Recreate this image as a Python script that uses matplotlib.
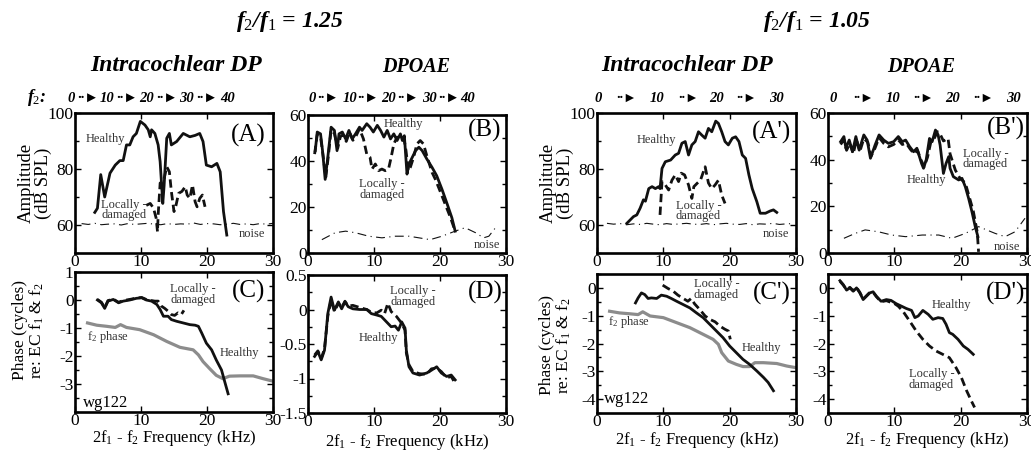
import matplotlib
matplotlib.use("Agg")
import matplotlib.pyplot as plt
from matplotlib.ticker import FuncFormatter, MultipleLocator

plt.rcParams["font.family"] = ["Liberation Serif", "DejaVu Sans"]
plt.rcParams["mathtext.fontset"] = "custom"
plt.rcParams["mathtext.rm"] = "Liberation Serif"
plt.rcParams["mathtext.it"] = "Liberation Serif:style=italic:weight=bold"
plt.rcParams["mathtext.bf"] = "Liberation Serif:style=italic:weight=bold"
plt.rcParams["axes.unicode_minus"] = False

# ---- amplitude, f2/f1 = 1.25 ----
a_h_x = [3.0, 3.4, 3.9, 4.5, 5.3, 6.1, 6.8, 7.3, 7.8, 8.3, 8.8, 9.3, 9.9, 10.6, 11.1, 11.4, 11.6, 12.1, 12.6,
         12.9, 13.3, 13.5, 13.9, 14.3, 14.6, 15.4, 16.4, 17.4, 18.2, 18.9, 19.4, 19.9, 20.7, 21.5, 22.0, 22.5, 23.0]
a_h_y = [64.5, 66, 78, 70, 78.5, 81.4, 83, 83, 88.6, 88.6, 91.5, 92.7, 97, 95.7, 94, 91.5, 94, 92.7, 88.6,
         82.6, 67.7, 74, 91, 92.7, 88.6, 89.8, 92.7, 91.5, 92, 92.7, 89.8, 81.4, 80.8, 82, 79, 64.8, 56.4]
a_d_x = [10.8, 11.4, 11.9, 12.3, 12.5, 12.6, 12.9, 13.4, 13.9, 14.3, 14.6, 15.0, 15.3, 15.7, 16.2, 16.7,
         17.0, 17.4, 17.8, 18.2, 18.5, 18.9, 19.3, 19.7]
a_d_y = [67, 67.7, 66, 62.4, 57.6, 63.6, 75, 75.5, 80.8, 79, 72, 64.8, 67, 71.3, 72, 73.7,
         70.7, 69.5, 74.3, 68.3, 66.5, 69.5, 70.7, 66.5]
a_n_x = list(range(1, 31))
a_n_y = [60.5, 60.2, 60.6, 60.1, 60.3, 60.4, 60.0, 60.5, 60.2, 60.4, 60.6, 60.3, 60.1, 60.5, 60.2,
         60.4, 60.3, 60.7, 60.2, 60.5, 60.4, 60.1, 60.3, 60.6, 60.2, 60.4, 60.1, 60.5, 60.3, 60.6]

b_h_x = [1.1, 1.4, 1.9, 2.2, 2.6, 3.0, 3.5, 4.0, 4.4, 4.7, 5.2, 5.7, 6.2, 6.7, 7.2, 7.8, 8.2, 8.9, 9.4, 9.9,
         10.5, 11.0, 11.5, 12.0, 12.5, 13.0, 13.5, 14.0, 14.3, 14.6, 15.0, 15.3, 15.8, 16.3, 16.8, 17.3,
         18.0, 18.8, 19.5, 20.3, 21.1, 21.8, 22.3]
b_h_y = [44.5, 52.6, 51.8, 44.5, 32, 41.6, 54.7, 53.3, 44.5, 51.8, 52.6, 49.6, 53.3, 49.6, 51.8, 54.7,
         53.3, 56.2, 54.7, 52.6, 55.5, 53.3, 50.4, 53.3, 49.6, 51.8, 48.9, 51.8, 48.9, 51, 34.3, 38.7,
         41.6, 44.5, 46, 44.5, 40.9, 37.2, 33.6, 27.7, 21.2, 15.3, 9.5]
b_d_x = [1.0, 1.4, 1.9, 2.3, 2.7, 3.1, 3.5, 4.0, 4.5, 4.9, 5.3, 5.8, 6.3, 6.8, 7.3, 7.8, 8.4, 8.9, 9.4,
         9.7, 10.2, 10.7, 11.2, 11.7, 12.2, 12.6, 13.0, 13.5, 14.0, 14.5, 14.85, 15.2, 15.5, 16.0, 16.5,
         17.0, 17.5, 18.0, 18.8, 19.3, 19.9, 20.6, 21.6, 22.3]
b_d_y = [43, 51.5, 50.5, 42, 33, 42.5, 53.5, 52, 45.5, 50.5, 51.5, 48.5, 52.5, 49, 51, 54, 49.6, 43,
         41.6, 36.5, 38.7, 35.8, 36.5, 35.8, 36.5, 41.6, 47.4, 50.4, 49.6, 50.4, 44.5, 35.8, 37.2, 41.6,
         47.4, 48.9, 47.4, 42.3, 35, 32, 27.7, 22.6, 15.3, 9.5]
b_n_x = [2.1, 4.1, 5.7, 7.2, 9.2, 11.2, 13.2, 15.3, 16.8, 18.5, 20.3, 22.3, 23.8, 25.4, 26.6, 27.4, 28.6]
b_n_y = [5.8, 8.8, 9.5, 8.8, 7.3, 6.6, 7.3, 7.3, 6.6, 5.8, 7.3, 9.5, 11, 8.8, 6.6, 7.3, 11.7]

# ---- amplitude, f2/f1 = 1.05 ----
ap_h_x = [4.5, 5.0, 5.5, 6.0, 6.5, 7.0, 7.3, 7.8, 8.3, 8.8, 9.3, 9.5, 9.8, 10.3, 11.1, 11.8, 12.3, 12.8,
          13.3, 13.8, 14.3, 14.8, 15.3, 15.8, 16.3, 16.8, 17.3, 17.9, 18.3, 18.8, 19.3, 19.8, 20.4, 20.9,
          21.4, 21.9, 22.4, 22.9, 23.4, 24.1, 24.6, 25.4, 26.1, 26.6, 27.1]
ap_h_y = [60.6, 61.8, 63, 63.6, 66, 69, 68.5, 73, 73.7, 73, 73.7, 73, 80.2, 82.6, 83.2, 85, 85.6, 89.2,
          89.8, 85, 88.6, 89.8, 93.3, 92.1, 91, 94.5, 93.3, 97.1, 96.3, 93.3, 89.8, 88.6, 91, 91.5,
          89.8, 85, 83.8, 77.9, 73, 68.3, 64.2, 64.2, 65, 65.4, 64.5]
ap_d_x = [9.5, 9.8, 10.3, 10.8, 11.3, 11.8, 12.3, 12.7, 13.2, 13.8, 14.3, 14.6, 15.1, 15.6, 16.3, 16.8,
          17.3, 17.8, 18.3, 18.8, 19.3]
ap_d_y = [63.6, 75.5, 74.3, 72.5, 76, 77.9, 75.5, 78.5, 77.9, 74.3, 69.5, 73.7, 74.9, 76, 80.8, 75,
          73, 74.3, 76, 70.7, 67.7]
ap_n_x = [1.5, 2.5, 3.5, 4.5, 5.5, 6.5, 7.5, 8.5, 9.5, 10.5, 11.5, 12.5, 13.5, 14.5, 15.5, 16.5, 17.5,
          18.5, 19.5, 20.5, 21.5, 22.5, 23.5, 24.5, 25.5, 26.5, 27.5, 28.5, 29.5]
ap_n_y = [60.6, 60.3, 60.5, 60.1, 60.4, 60.2, 60.6, 60.3, 60.1, 60.5, 60.2, 60.4, 60.6, 60.3, 60.2,
          60.5, 60.1, 60.4, 60.6, 60.3, 60.2, 60.5, 60.1, 60.4, 60.3, 60.6, 60.2, 60.4, 60.5]

bp_h_x = [1.9, 2.4, 2.7, 3.2, 3.7, 4.2, 4.7, 5.4, 5.9, 6.4, 7.1, 7.7, 8.4, 9.1, 9.9, 10.6, 11.2, 11.7,
          12.3, 12.9, 13.4, 14.1, 14.4, 14.8, 15.3, 15.7, 16.2, 16.6, 16.9, 17.4, 17.8, 18.2, 18.4, 18.9,
          19.7, 20.2, 20.7, 21.2, 21.7, 22.2, 22.6]
bp_h_y = [47.7, 49.9, 44.9, 48.4, 43.4, 49.9, 44.1, 50.6, 48.4, 40.6, 46.3, 50.6, 48.4, 47, 47.7, 49.9,
          47.7, 48.4, 45.6, 43.4, 44.9, 38.4, 36.3, 39.9, 49.1, 47.7, 52.7, 50.6, 46.3, 34.1, 38.4,
          41.3, 36.3, 32.7, 31.3, 32, 28.4, 23.4, 17.7, 11.3, 7]
bp_d_x = [1.9, 2.4, 2.8, 3.3, 3.8, 4.3, 4.8, 5.4, 6.0, 6.5, 7.1, 7.7, 8.4, 9.1, 9.9, 10.6, 11.2, 11.8,
          12.4, 13.0, 13.5, 14.0, 14.5, 15.0, 15.5, 16.0, 16.5, 16.9, 17.4, 18.1, 18.4, 18.8, 19.2, 19.9,
          20.7, 21.2, 21.9, 22.5, 22.7]
bp_d_y = [46.5, 48.5, 44, 47, 42.5, 48.5, 43.5, 49, 47.5, 41.5, 45, 49.5, 47, 45.5, 46.5, 48.5, 46.5,
          47, 44.5, 42.5, 44, 40, 37, 41, 47.5, 49, 52, 51, 48, 49.1, 42.5, 39, 35.5, 32, 30, 25, 18,
          9, 0.5]
bp_n_x = [2.4, 4.1, 5.6, 7.6, 9.6, 11.7, 14.2, 16.7, 18.7, 20.7, 22.7, 25.2, 26.7, 28.2, 29.7]
bp_n_y = [6.3, 8.4, 9.9, 9.1, 7.7, 7.0, 7.7, 7.7, 6.3, 8.4, 11.3, 8.4, 7.0, 9.1, 14.9]

# ---- phase, f2/f1 = 1.25 ----
c_h_x = [3.4, 4.0, 4.5, 5.0, 5.8, 6.6, 7.3, 8.3, 9.3, 10.1, 10.8, 11.6, 12.4, 12.9, 13.4, 14.1, 14.6,
         15.4, 16.4, 17.4, 18.2, 18.7, 19.2, 19.9, 20.7, 21.4, 22.2, 22.7, 23.2]
c_h_y = [0, -0.1, -0.3, -0.04, 0.02, -0.1, -0.04, 0, 0.06, 0.08, 0, -0.04, -0.16, -0.34, -0.58, -0.58,
         -0.7, -0.76, -0.82, -0.88, -0.9, -0.94, -1.18, -1.54, -1.78, -2.14, -2.5, -2.93, -3.35]
c_d_x = [3.4, 4.0, 4.5, 5.0, 5.8, 6.6, 7.3, 8.3, 9.3, 10.1, 10.8, 11.6, 12.1, 12.6, 13.1, 13.6, 14.1,
         14.6, 15.1, 15.6, 16.1, 16.5]
c_d_y = [0.02, -0.08, -0.27, -0.02, 0.03, -0.08, -0.02, 0.02, 0.07, 0.09, 0.02, -0.02, -0.04, -0.04,
         -0.22, -0.3, -0.4, -0.52, -0.55, -0.46, -0.52, -0.37]
c_f2_x = [1.9, 3.3, 4.8, 6.1, 6.9, 7.8, 9.8, 11.9, 13.9, 15.9, 17.9, 18.7, 19.4, 20.4, 21.4, 22.4, 23.4,
          25.0, 27.0, 28.5, 30.0]
c_f2_y = [-0.82, -0.9, -0.94, -0.98, -0.88, -0.98, -1.06, -1.24, -1.48, -1.69, -1.78, -1.96, -2.2,
          -2.45, -2.69, -2.81, -2.72, -2.71, -2.71, -2.81, -2.9]

d_h_x = [1.0, 1.5, 2.0, 2.5, 3.0, 3.5, 4.0, 4.6, 5.1, 5.6, 6.1, 6.8, 7.8, 8.9, 9.6, 10.4, 11.1, 11.9,
         12.6, 13.2, 13.7, 14.2, 14.7, 14.9, 15.3, 15.9, 16.9, 18.0, 18.7, 19.5, 20.2, 21.0, 21.7, 22.3]
d_h_y = [-0.68, -0.61, -0.73, -0.59, -0.06, 0.18, -0.01, 0.11, 0.01, 0.11, 0.04, 0.01, 0, 0, -0.06,
         -0.08, -0.1, -0.18, -0.25, -0.24, -0.3, -0.18, -0.27, -0.59, -0.83, -0.92, -0.95, -0.92,
         -0.88, -0.83, -0.92, -0.97, -0.95, -1.02]
d_d_x = [1.0, 1.5, 2.0, 2.5, 3.0, 3.5, 4.0, 4.6, 5.1, 5.6, 6.1, 6.8, 7.8, 8.9, 9.6, 10.4, 11.1, 11.6,
         12.1, 12.6, 13.4, 14.2, 14.7, 14.9, 15.3, 15.9, 16.9, 18.0, 18.7, 19.5, 20.2, 21.0, 21.7, 22.4]
d_d_y = [-0.66, -0.6, -0.71, -0.57, -0.1, 0.14, -0.03, 0.09, 0.03, 0.12, 0.05, 0.06, 0.03, 0.0, -0.04,
         -0.05, -0.01, -0.06, 0.09, -0.03, -0.1, -0.2, -0.3, -0.63, -0.8, -0.9, -0.93, -0.94, -0.86,
         -0.85, -0.9, -0.99, -0.97, -1.09]

# ---- phase, f2/f1 = 1.05 ----
cp_h_x = [5.8, 6.2, 6.7, 7.2, 7.7, 8.2, 9.0, 9.7, 10.5, 11.2, 12.0, 13.0, 14.0, 15.0, 16.0, 17.0, 18.0,
          19.0, 20.0, 21.0, 22.0, 23.0, 24.1, 25.1, 25.8, 26.6]
cp_h_y = [-0.54, -0.36, -0.18, -0.24, -0.38, -0.36, -0.38, -0.26, -0.3, -0.38, -0.48, -0.6, -0.72,
          -0.9, -1.07, -1.31, -1.55, -1.79, -2.09, -2.33, -2.57, -2.75, -2.99, -3.22, -3.4, -3.7]
cp_d_x = [9.9, 10.7, 11.5, 12.2, 13.0, 13.7, 14.2, 14.7, 15.5, 16.3, 17.0, 17.8, 18.5, 19.3, 19.8, 20.1]
cp_d_y = [0.1, -0.02, -0.12, -0.26, -0.38, -0.48, -0.38, -0.57, -0.78, -1.01, -1.13, -1.22, -1.37,
          -1.49, -1.55, -1.85]
cp_f2_x = [1.9, 3.4, 4.9, 6.2, 6.9, 8.0, 10.0, 12.0, 14.0, 16.0, 17.5, 18.3, 18.8, 19.8, 21.0, 22.0,
           23.0, 23.8, 25.1, 27.1, 28.6, 30.0]
cp_f2_y = [-0.84, -0.9, -0.93, -0.96, -0.86, -1.01, -1.07, -1.25, -1.43, -1.67, -1.85, -2.03, -2.33,
           -2.63, -2.75, -2.83, -2.83, -2.69, -2.69, -2.72, -2.81, -2.87]

dp_h_x = [1.8, 2.3, 2.8, 3.3, 3.8, 4.3, 4.8, 5.3, 5.8, 6.3, 6.8, 7.3, 8.0, 8.8, 9.5, 10.3, 11.1, 11.8,
          12.6, 13.1, 13.6, 14.3, 15.1, 15.8, 16.6, 17.3, 17.8, 18.3, 18.8, 19.6, 20.4, 21.1, 21.9]
dp_h_y = [0.26, 0.12, -0.08, 0, -0.12, 0, -0.18, -0.42, -0.3, -0.18, -0.14, -0.3, -0.48, -0.42, -0.45,
          -0.57, -0.66, -0.74, -0.81, -1.07, -1.01, -0.81, -0.95, -1.13, -1.07, -1.1, -1.31, -1.61,
          -1.67, -1.85, -2.09, -2.21, -2.39]
dp_d_x = [1.8, 2.3, 2.8, 3.3, 3.8, 4.3, 4.8, 5.3, 5.8, 6.3, 6.8, 7.3, 8.0, 8.8, 9.5, 10.0, 10.6, 11.3,
          12.3, 13.3, 14.3, 15.3, 16.3, 17.3, 18.3, 19.3, 20.1, 20.9, 21.6, 22.1]
dp_d_y = [0.24, 0.1, -0.06, 0.02, -0.1, 0.02, -0.16, -0.4, -0.28, -0.16, -0.16, -0.32, -0.5, -0.46,
          -0.52, -0.56, -0.66, -0.84, -1.19, -1.55, -1.85, -2.09, -2.27, -2.39, -2.51, -2.87, -3.22,
          -3.7, -4.06, -4.3]

# f2 scale shown above the amplitude panels (label, centre pixel)
row_a = [("0", 71), ("··►", 88), ("10", 107.5), ("··►", 127), ("20", 146.5), ("··►", 167),
         ("30", 186.5), ("··►", 207), ("40", 228)]
row_b = [("0", 312), ("··►", 328), ("10", 350), ("··►", 368), ("20", 389), ("··►", 408),
         ("30", 429), ("··►", 449), ("40", 468)]
row_ap = [("0", 598), ("··►", 627), ("10", 657), ("··►", 689), ("20", 717), ("··►", 747), ("30", 776)]
row_bp = [("0", 833), ("··►", 864), ("10", 893), ("··►", 924), ("20", 953), ("··►", 984), ("30", 1013)]

W, H = 1031, 453
fig = plt.figure(figsize=(W / 100, H / 100), dpi=100)
BLACK = "#111111"
GRAY = "#8c8c8c"


def px_axes(left, top, right, bottom):
    return fig.add_axes([left / W, 1 - bottom / H, (right - left) / W, (bottom - top) / H])


def fmt(v, pos):
    return "%g" % v


def style(ax, ylim, yticks, ystep):
    ax.set_xlim(0, 30)
    ax.set_ylim(*ylim)
    ax.set_xticks([0, 10, 20, 30])
    ax.set_yticks(yticks)
    ax.yaxis.set_minor_locator(MultipleLocator(ystep))
    ax.yaxis.set_major_formatter(FuncFormatter(fmt))
    ax.tick_params(direction="in", top=True, right=True, length=4, width=1, labelsize=12.5, pad=1)
    ax.tick_params(which="minor", direction="in", right=True, left=True, length=3, width=1)
    for s in ax.spines.values():
        s.set_linewidth(1.9)


solid = dict(color=BLACK, lw=2.0)
dash = dict(color=BLACK, lw=2.0, linestyle=(0, (3, 1.6)))
noise = dict(color=BLACK, lw=0.8, linestyle=(0, (8, 4, 1, 4)))
lab = dict(fontsize=9, color="#333333")
pan = dict(fontsize=18, ha="center", va="center")

# A
ax = px_axes(75, 113, 273, 253)
ax.plot(a_n_x, a_n_y, **noise)
ax.plot(a_d_x, a_d_y, **dash)
ax.plot(a_h_x, a_h_y, **solid)
style(ax, (50, 100), [60, 80, 100], 10)
ax.text(4.6, 90.8, "Healthy", ha="center", va="center", **lab)
ax.text(7.4, 65.4, "Locally -\ndamaged", ha="center", va="center", linespacing=0.85, **lab)
ax.text(26.8, 56.7, "noise", ha="center", va="center", **lab)
ax.text(26.3, 92, "(A)", **pan)

# B
ax = px_axes(308, 115, 506, 253)
ax.plot(b_n_x, b_n_y, **noise)
ax.plot(b_d_x, b_d_y, **dash)
ax.plot(b_h_x, b_h_y, **solid)
style(ax, (0, 60), [0, 20, 40, 60], 10)
ax.text(14.5, 56.2, "Healthy", ha="center", va="center", **lab)
ax.text(11.2, 27.7, "Locally -\ndamaged", ha="center", va="center", linespacing=0.85, **lab)
ax.text(27.1, 3.6, "noise", ha="center", va="center", **lab)
ax.text(26.8, 53.3, "(B)", **pan)

# A'
ax = px_axes(597, 113, 796, 253)
ax.plot(ap_n_x, ap_n_y, **noise)
ax.plot(ap_d_x, ap_d_y, **dash)
ax.plot(ap_h_x, ap_h_y, **solid)
style(ax, (50, 100), [60, 80, 100], 10)
ax.text(9.0, 90.4, "Healthy", ha="center", va="center", **lab)
ax.text(15.3, 65.0, "Locally -\ndamaged", ha="center", va="center", linespacing=0.85, **lab)
ax.text(27.0, 56.7, "noise", ha="center", va="center", **lab)
ax.text(26.3, 93, "(A')", **pan)

# B'
ax = px_axes(828, 113, 1027, 253)
ax.plot(bp_n_x, bp_n_y, **noise)
ax.plot(bp_d_x, bp_d_y, **dash)
ax.plot(bp_h_x, bp_h_y, **solid)
style(ax, (0, 60), [0, 20, 40, 60], 10)
ax.text(20.3, 40.3, "Locally -\ndamaged", ha="left", va="center", linespacing=0.85, **lab)
ax.text(14.8, 31.3, "Healthy", ha="center", va="center", **lab)
ax.text(27.0, 2.5, "noise", ha="center", va="center", **lab)
ax.text(26.8, 53.3, "(B')", **pan)

# C
ax = px_axes(75, 272, 273, 412)
ax.plot(c_f2_x, c_f2_y, color=GRAY, lw=2.3)
ax.plot(c_d_x, c_d_y, **dash)
ax.plot(c_h_x, c_h_y, **solid)
style(ax, (-4, 1), [-3, -2, -1, 0, 1], 0.5)
ax.text(17.9, 0.2, "Locally -\ndamaged", ha="center", va="center", linespacing=0.85, **lab)
ax.text(5.0, -1.32, "f$_2$ phase", ha="center", va="center", **lab)
ax.text(24.9, -1.9, "Healthy", ha="center", va="center", **lab)
ax.text(1.2, -3.68, "wg122", ha="left", va="center", fontsize=12)
ax.text(26.3, 0.3, "(C)", **pan)

# D
ax = px_axes(308, 275, 506, 413)
ax.plot(d_d_x, d_d_y, **dash)
ax.plot(d_h_x, d_h_y, **solid)
style(ax, (-1.5, 0.5), [-1.5, -1, -0.5, 0, 0.5], 0.25)
ax.text(15.9, 0.19, "Locally -\ndamaged", ha="center", va="center", linespacing=0.85, **lab)
ax.text(10.6, -0.41, "Healthy", ha="center", va="center", **lab)
ax.text(26.8, 0.25, "(D)", **pan)

# C'
ax = px_axes(597, 274, 796, 413)
ax.plot(cp_f2_x, cp_f2_y, color=GRAY, lw=2.3)
ax.plot(cp_d_x, cp_d_y, **dash)
ax.plot(cp_h_x, cp_h_y, **solid)
style(ax, (-4.5, 0.5), [-4, -3, -2, -1, 0], 0.5)
ax.text(18.0, -0.06, "Locally -\ndamaged", ha="center", va="center", linespacing=0.85, **lab)
ax.text(4.9, -1.22, "f$_2$ phase", ha="center", va="center", **lab)
ax.text(24.8, -2.17, "Healthy", ha="center", va="center", **lab)
ax.text(1.0, -4.0, "wg122", ha="left", va="center", fontsize=12)
ax.text(26.3, -0.2, "(C')", **pan)

# D'
ax = px_axes(828, 274, 1027, 413)
ax.plot(dp_d_x, dp_d_y, **dash)
ax.plot(dp_h_x, dp_h_y, **solid)
style(ax, (-4.5, 0.5), [-4, -3, -2, -1, 0], 0.5)
ax.text(18.6, -0.62, "Healthy", ha="center", va="center", **lab)
ax.text(15.6, -3.3, "Locally -\ndamaged", ha="center", va="center", linespacing=0.85, **lab)
ax.text(26.8, -0.2, "(D')", **pan)


def ftext(x, y, s, **kw):
    fig.text(x / W, 1 - y / H, s, **kw)


bi = dict(fontweight="bold", style="italic")
ylab = dict(fontsize=12.5, rotation=90, ha="center", va="center", linespacing=1.0)
xlab = dict(fontsize=12, ha="center", va="center")

ftext(290, 22, r"$f_2$/$f_1$ = 1.25", fontsize=17, ha="center", va="center", **bi)
ftext(817, 22, r"$f_2$/$f_1$ = 1.05", fontsize=17, ha="center", va="center", **bi)
ftext(176, 65, "Intracochlear DP", fontsize=17, ha="center", va="center", **bi)
ftext(416, 67, "DPOAE", fontsize=14.5, ha="center", va="center", **bi)
ftext(687, 65, "Intracochlear DP", fontsize=17, ha="center", va="center", **bi)
ftext(921, 67, "DPOAE", fontsize=14.5, ha="center", va="center", **bi)

ftext(27, 97, r"$f_2$:", fontsize=13, ha="left", va="center", **bi)
for row, asize in ((row_a, 10.5), (row_b, 10.5), (row_ap, 10), (row_bp, 10)):
    for s, x in row:
        size = asize if "►" in s else 10.5
        ftext(x, 98, s, fontsize=size, ha="center", va="center", **bi)

ftext(35, 183, "Amplitude\n(dB SPL)", fontsize=13.5, rotation=90, ha="center", va="center", linespacing=1.0)
ftext(557, 183, "Amplitude\n(dB SPL)", fontsize=13.5, rotation=90, ha="center", va="center", linespacing=1.0)
ftext(29, 330, "Phase (cycles)\nre: EC f$_1$ & f$_2$", **ylab)
ftext(556, 345, "Phase (cycles)\nre: EC f$_1$ & f$_2$", **ylab)

ftext(174, 438, "2f$_1$ - f$_2$ Frequency (kHz)", **xlab)
ftext(407, 442, "2f$_1$ - f$_2$ Frequency (kHz)", **xlab)
ftext(697, 440, "2f$_1$ - f$_2$ Frequency (kHz)", **xlab)
ftext(927, 440, "2f$_1$ - f$_2$ Frequency (kHz)", **xlab)

fig.savefig("out.png", dpi=100)
